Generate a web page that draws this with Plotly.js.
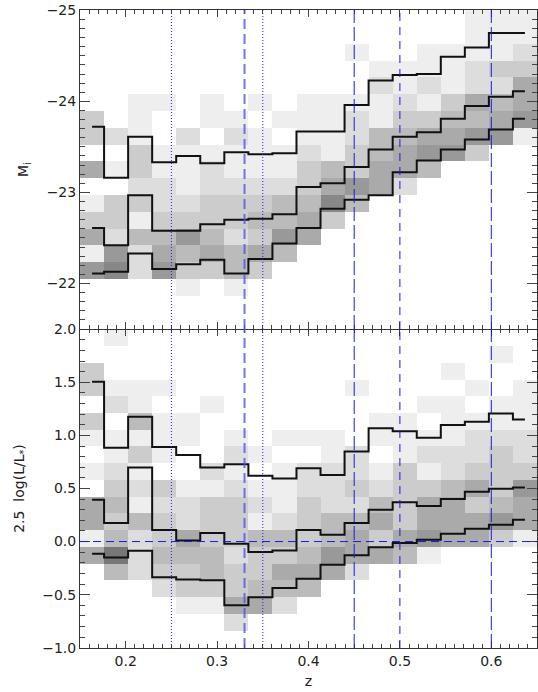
<!DOCTYPE html>
<html>
<head>
<meta charset="utf-8">
<script src="https://cdn.plot.ly/plotly-3.0.1.min.js"></script>
<style>html,body{margin:0;padding:0;background:#fff;}#chart{width:538px;height:692px;}</style>
</head>
<body>
<div id="chart"></div>
<script>
// ---- data ----
// redshift bin centres (19 bins across 0.15-0.65)
const zBins = [0.1632, 0.1895, 0.2158, 0.2421, 0.2684, 0.2947, 0.3211, 0.3474, 0.3737, 0.4000,
               0.4263, 0.4526, 0.4789, 0.5053, 0.5316, 0.5579, 0.5842, 0.6105, 0.6368];
// absolute magnitude bin centres (top panel rows, top to bottom)
const magBins = [-24.908, -24.724, -24.540, -24.355, -24.171, -23.987, -23.803, -23.618, -23.434, -23.250,
                 -23.066, -22.882, -22.697, -22.513, -22.329, -22.145, -21.961, -21.776, -21.592];
// 2.5 log(L/L*) bin centres (bottom panel rows, top to bottom)
const lumBins = [1.921, 1.763, 1.605, 1.447, 1.289, 1.132, 0.974, 0.816, 0.658, 0.500,
                 0.342, 0.184, 0.026, -0.132, -0.289, -0.447, -0.605, -0.763, -0.921];

// grey-level density (0 = empty .. 8 = densest), rows top to bottom, columns by z bin
const magDensity = [
  [0,0,0,0,0,0,0,0,0,0,0,0,0,0,0,0,1,1,1],
  [0,0,0,0,0,0,0,0,0,0,0,0,0,0,0,0,1,1,1],
  [0,0,0,0,0,0,0,0,0,0,0,1,0,0,1,1,1,1,2],
  [0,0,0,0,0,0,0,0,0,0,0,0,1,1,1,1,2,3,3],
  [0,0,0,0,0,0,0,0,0,0,0,0,2,1,2,1,2,2,5],
  [0,0,1,1,0,1,0,1,0,1,1,1,1,2,1,3,5,4,5],
  [3,0,1,0,0,1,1,0,1,1,1,2,1,3,3,4,4,5,6],
  [3,2,1,0,2,0,2,1,0,1,1,2,4,4,5,5,6,6,1],
  [0,0,3,1,1,1,1,1,1,2,1,3,4,5,6,6,3,0,0],
  [5,1,3,1,1,2,1,1,1,3,4,3,5,5,4,0,0,0,0],
  [0,0,2,2,1,2,2,2,2,3,5,6,5,2,0,0,0,0,0],
  [1,3,3,2,2,3,3,3,4,4,7,4,0,0,0,0,0,0,0],
  [3,3,1,3,3,3,3,4,4,5,3,0,0,0,0,0,0,0,0],
  [5,2,4,4,6,4,2,3,6,5,0,0,0,0,0,0,0,0,0],
  [1,6,2,5,4,5,4,5,4,0,0,0,0,0,0,0,0,0,0],
  [6,7,2,6,3,3,4,3,0,0,0,0,0,0,0,0,0,0,0],
  [0,0,0,0,1,0,1,0,0,0,0,0,0,0,0,0,0,0,0],
  [0,0,0,0,0,0,0,0,0,0,0,0,0,0,0,0,0,0,0],
  [0,0,0,0,0,0,0,0,0,0,0,0,0,0,0,0,0,0,0]
];
const lumDensity = [
  [0,1,0,0,0,0,0,0,0,0,0,0,0,0,0,0,0,0,0],
  [0,0,0,0,0,0,0,0,0,0,0,0,0,0,0,0,0,1,0],
  [3,0,0,0,0,0,0,0,0,0,0,0,0,0,0,1,0,0,0],
  [3,1,1,1,0,0,0,0,0,0,0,1,0,0,0,0,1,0,1],
  [0,2,1,0,0,1,0,0,0,0,0,0,0,0,1,1,0,1,1],
  [3,0,4,1,1,0,0,0,0,0,0,0,1,1,0,1,1,1,1],
  [1,1,1,1,1,0,1,0,1,1,1,0,1,1,1,1,2,2,2],
  [0,1,3,1,0,0,2,1,0,0,1,2,0,1,2,2,2,3,2],
  [1,2,1,0,0,2,1,0,1,2,2,2,1,3,1,2,3,3,3],
  [0,3,2,3,1,1,2,1,1,2,2,3,2,3,3,4,5,3,6],
  [5,4,1,2,2,3,3,2,1,3,2,2,4,3,5,5,3,4,5],
  [5,3,4,3,2,3,3,1,2,3,4,4,5,3,5,5,5,6,5],
  [1,4,2,3,5,3,3,4,4,3,4,5,3,5,6,5,5,3,1],
  [5,8,2,4,4,4,2,3,3,4,6,5,5,4,1,0,0,0,0],
  [0,4,2,3,3,4,3,3,5,5,5,2,0,0,0,0,0,0,0],
  [0,0,0,2,3,3,3,4,4,4,0,0,0,0,0,0,0,0,0],
  [0,0,0,0,1,1,5,5,2,0,0,0,0,0,0,0,0,0,0],
  [0,0,0,0,0,0,2,0,0,0,0,0,0,0,0,0,0,0,0],
  [0,0,0,0,0,0,0,0,0,0,0,0,0,0,0,0,0,0,0]
];

// percentile curves per z bin
const magUpper  = [-23.72,-23.16,-23.61,-23.33,-23.40,-23.32,-23.44,-23.42,-23.43,-23.67,-23.67,-23.96,-24.23,-24.29,-24.30,-24.49,-24.59,-24.75,-24.75];
const magMedian = [-22.61,-22.42,-22.97,-22.58,-22.58,-22.65,-22.70,-22.71,-22.76,-23.06,-23.10,-23.28,-23.47,-23.61,-23.66,-23.81,-23.95,-24.05,-24.11];
const magLower  = [-22.11,-22.13,-22.33,-22.16,-22.21,-22.26,-22.11,-22.27,-22.44,-22.61,-22.82,-22.92,-22.97,-23.22,-23.35,-23.47,-23.58,-23.69,-23.81];

const lumUpper  = [1.505,0.885,1.176,0.890,0.815,0.697,0.728,0.620,0.594,0.690,0.628,0.848,1.067,1.040,0.978,1.098,1.130,1.207,1.151];
const lumMedian = [0.393,0.174,0.697,0.110,0.010,0.080,-0.020,-0.098,-0.085,0.110,0.064,0.174,0.300,0.370,0.336,0.400,0.470,0.497,0.510];
const lumLower  = [-0.115,-0.150,-0.086,-0.336,-0.358,-0.365,-0.600,-0.525,-0.437,-0.350,-0.218,-0.130,-0.054,-0.013,0.018,0.074,0.120,0.158,0.205];

// reference redshifts
const dottedZ = [0.25, 0.35];
const thickDashZ = [0.33];
const longDashZ = [0.45, 0.60];
const shortDashZ = [0.50];
const zeroLum = [0];

// ---- drawing ----
const greys = [[0,'#ffffff'],[0.125,'#eeeeee'],[0.25,'#dddddd'],[0.375,'#cccccc'],[0.5,'#bbbbbb'],
               [0.625,'#aaaaaa'],[0.75,'#999999'],[0.875,'#888888'],[1,'#777777']];

function heat(y, z, xa, ya) {
  return {type:'heatmap', x:zBins, y:y, z:z, xaxis:xa, yaxis:ya, zmin:0, zmax:8,
          colorscale:greys, showscale:false, hoverinfo:'skip'};
}
function step(y, xa, ya) {
  return {type:'scatter', mode:'lines', x:zBins, y:y, xaxis:xa, yaxis:ya,
          line:{shape:'hvh', color:'#111111', width:2}, hoverinfo:'skip', showlegend:false};
}

const data = [
  heat(magBins, magDensity, 'x2', 'y2'),
  heat(lumBins, lumDensity, 'x', 'y'),
  step(magUpper, 'x2', 'y2'), step(magMedian, 'x2', 'y2'), step(magLower, 'x2', 'y2'),
  step(lumUpper, 'x', 'y'), step(lumMedian, 'x', 'y'), step(lumLower, 'x', 'y')
];

const shapes = [];
function vlines(list, style) {
  list.forEach(v => {
    ['y', 'y2'].forEach(ya => {
      shapes.push({type:'line', xref: ya === 'y' ? 'x' : 'x2', yref: ya + ' domain',
                   x0:v, x1:v, y0:0, y1:1, layer:'above', line:style});
    });
  });
}
vlines(dottedZ, {color:'#2020e0', width:1, dash:'1px,2px'});
vlines(thickDashZ, {color:'rgba(80,80,240,0.8)', width:2, dash:'10px,5px'});
vlines(longDashZ, {color:'#1a1ae6', width:1, dash:'14px,4px'});
vlines(shortDashZ, {color:'#1a1ae6', width:1, dash:'8px,6px'});
zeroLum.forEach(v => shapes.push({type:'line', xref:'x domain', yref:'y', x0:0, x1:1, y0:v, y1:v,
  layer:'above', line:{color:'#1a1ae6', width:1, dash:'8px,5px'}}));

const font = {family:'DejaVu Sans, sans-serif', size:14, color:'#222'};
const axisBase = {showline:true, linecolor:'#333', linewidth:1, mirror:'allticks', ticks:'inside',
                  tickcolor:'#444', showgrid:false, zeroline:false, tickfont:font};

const layout = {
  width:538, height:692, margin:{l:80, r:1, t:10, b:44},
  paper_bgcolor:'#ffffff', plot_bgcolor:'#ffffff', showlegend:false, font:font,
  xaxis: Object.assign({}, axisBase, {domain:[0,1], anchor:'y', range:[0.15,0.65], tick0:0, dtick:0.1,
          ticklen:7, minor:{dtick:0.01, ticklen:4, ticks:'inside', tickcolor:'#444'},
          tickformat:'.1f', title:{text:'z', font:font, standoff:8}}),
  xaxis2: Object.assign({}, axisBase, {domain:[0,1], anchor:'y2', matches:'x', range:[0.15,0.65], tick0:0, dtick:0.1,
          ticklen:7, minor:{dtick:0.01, ticklen:4, ticks:'inside', tickcolor:'#444'}, showticklabels:false}),
  yaxis: Object.assign({}, axisBase, {domain:[0,0.5], anchor:'x', range:[-1.003,2.003], tick0:0, dtick:0.5,
          ticklen:10, minor:{dtick:0.1, ticklen:5, ticks:'inside', tickcolor:'#444'},
          tickformat:'.1f', title:{text:'2.5  log(L/L<sub>*</sub>)', font:font, standoff:14}}),
  yaxis2: Object.assign({}, axisBase, {domain:[0.5,1], anchor:'x2', range:[-21.5,-25.003], tick0:0, dtick:1,
          ticklen:10, minor:{dtick:0.1, ticklen:5, ticks:'inside', tickcolor:'#444'},
          title:{text:'M<sub>i</sub>', font:font, standoff:14}}),
  shapes: shapes
};

Plotly.newPlot('chart', data, layout, {displayModeBar:false, staticPlot:true});
</script>
</body>
</html>
